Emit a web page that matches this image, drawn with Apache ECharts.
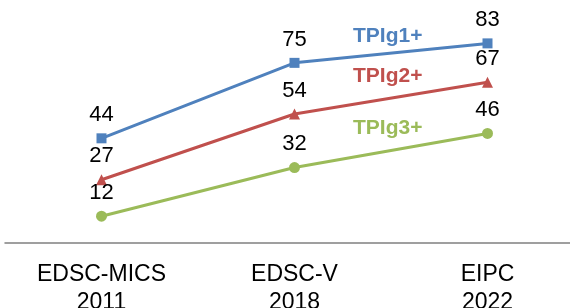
<!DOCTYPE html>
<html>
<head>
<meta charset="utf-8">
<script src="https://cdn.jsdelivr.net/npm/echarts@6/dist/echarts.min.js"></script>
<style>
  html, body { margin: 0; padding: 0; background: #fff; }
  #chart { width: 570px; height: 308px; }
</style>
</head>
<body>
<div id="chart"></div>
<script>
// data
const categories = ['EDSC-MICS\n2011', 'EDSC-V\n2018', 'EIPC\n2022'];
const seriesNames = ['TPIg1+', 'TPIg2+', 'TPIg3+'];
const tplg1 = [44, 75, 83];
const tplg2 = [27, 54, 67];
const tplg3 = [12, 32, 46];

const colors = ['#4F81BD', '#C0504D', '#9BBB59'];
const symbols = ['rect', 'triangle', 'circle'];
const sizes = [10, 11, 11];
const values = [tplg1, tplg2, tplg3];
const nameTops = [26, 66, 118];

const FONT = 'Liberation Sans, Arial, sans-serif';

let chart = echarts.init(document.getElementById('chart'));

let series = values.map(function (v, i) {
    return {
        name: seriesNames[i],
        type: 'line',
        data: v,
        symbol: symbols[i],
        symbolSize: sizes[i],
        lineStyle: {color: colors[i], width: 3},
        itemStyle: {color: colors[i]},
        label: {
            show: true,
            position: 'top',
            distance: 7,
            color: '#000',
            fontSize: 22,
            fontFamily: FONT
        },
        animation: false
    };
});

let option = {
    backgroundColor: '#fff',
    grid: {left: 5, top: 2, width: 579, bottom: 65, outerBoundsMode: 'none', containLabel: false},
    xAxis: {
        type: 'category',
        data: categories,
        axisLine: {lineStyle: {color: '#808080', width: 1.5}},
        axisTick: {show: false},
        axisLabel: {
            color: '#000',
            fontSize: 23,
            lineHeight: 28,
            margin: 18,
            fontFamily: FONT
        }
    },
    yAxis: {
        type: 'value',
        min: 1,
        max: 100,
        show: false,
        splitLine: {show: false}
    },
    // series names written next to the lines
    graphic: seriesNames.map(function (n, i) {
        return {
            type: 'text', left: 353, top: nameTops[i],
            style: {text: n, fill: colors[i], font: 'bold 21px ' + FONT}
        };
    }),
    series: series
};

chart.setOption(option);
</script>
</body>
</html>
